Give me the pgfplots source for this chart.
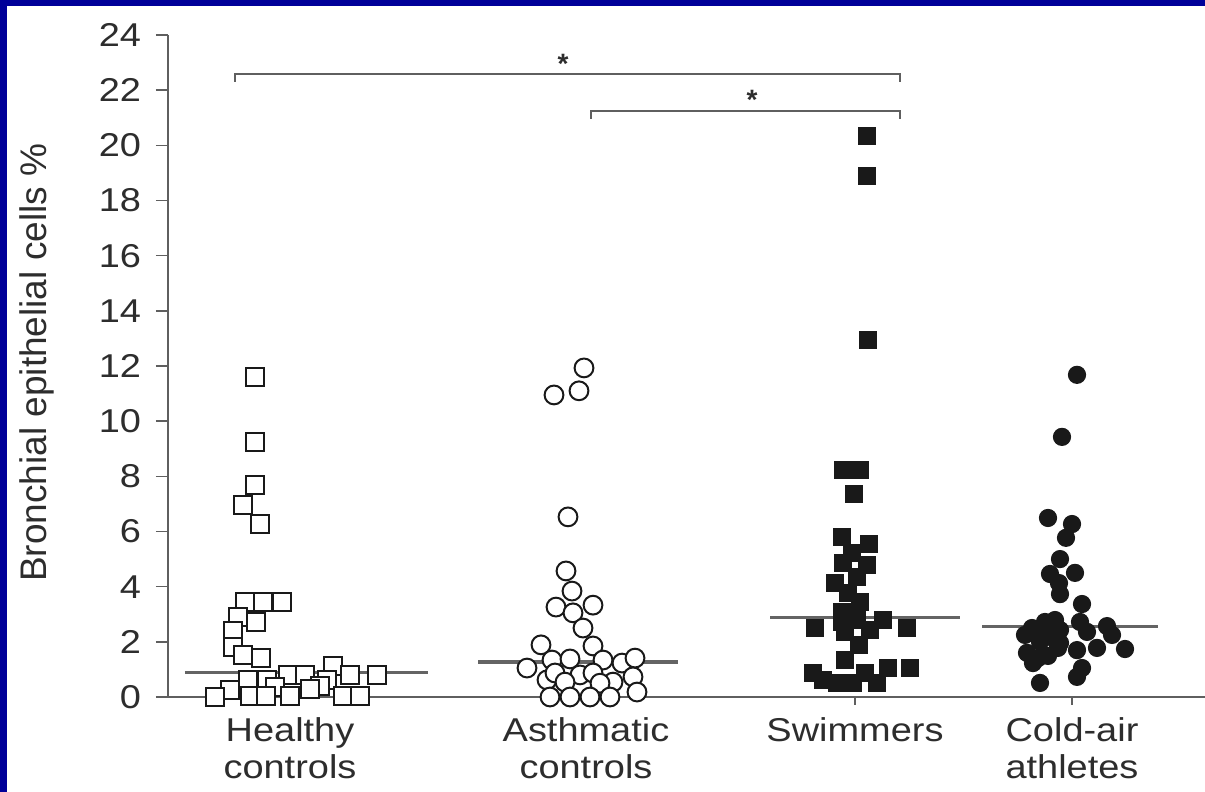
\documentclass[border=0pt]{standalone}
\usepackage{pgfplots}
\pgfplotsset{compat=1.18}
\usepackage{fontspec}
\setmainfont{Liberation Sans}
\definecolor{frameblue}{RGB}{0,0,153}
\definecolor{txt}{RGB}{45,45,45}
\definecolor{axgray}{RGB}{95,95,95}
\definecolor{medgray}{RGB}{100,100,100}
\definecolor{mk}{RGB}{25,25,25}
\begin{document}
\begin{tikzpicture}
\useasboundingbox (-84pt,-47.5pt) rectangle (518.5pt,348.5pt);
\fill[frameblue] (-84pt,-47.5pt) rectangle (518.5pt,348.5pt);
\fill[white] (-80.5pt,-47.5pt) rectangle (518.5pt,345.5pt);
\begin{axis}[
  at={(0,0)}, anchor=south west, scale only axis,
  width=518.5pt, height=331pt,
  xmin=168, xmax=1205, ymin=0, ymax=24,
  axis x line*=bottom, axis y line*=left,
  axis line style={axgray, line width=1pt},
  tick align=outside,
  ytick={0,2,...,24},
  xtick={290,586,855,1072},
  xticklabels={{Healthy\\controls},{Asthmatic\\controls},{Swimmers},{Cold-air\\athletes}},
  major tick length=6pt,
  xtick style={axgray, line width=0.8pt, /pgfplots/major tick length=4pt},
  ytick style={axgray, line width=0.8pt},
  /pgf/number format/assume math mode=true,
  tick label style={font=\fontsize{16.5}{18.5}\selectfont, text=txt, xscale=1.15},
  xticklabel style={align=center, yshift=-1pt},
  yticklabel style={xshift=-3pt},
  ylabel={Bronchial epithelial cells \%},
  ylabel style={at={(axis description cs:-0.126,0.505)}, anchor=center, font=\fontsize{18.5}{21}\selectfont, text=txt},
  clip=false,
]
% median lines
\addplot[medgray, line width=1.6pt] coordinates {(185,0.9) (428,0.9)};
\addplot[medgray, line width=1.6pt] coordinates {(478,1.27) (678,1.27)};
\addplot[medgray, line width=1.6pt] coordinates {(770,2.87) (960,2.87)};
\addplot[medgray, line width=1.6pt] coordinates {(982,2.55) (1158,2.55)};
% significance brackets
\addplot[axgray, line width=1.1pt] coordinates {(235,22.3) (235,22.58) (900,22.58) (900,22.3)};
\addplot[axgray, line width=1.1pt] coordinates {(591,20.97) (591,21.24) (900,21.24) (900,20.97)};
\node[font=\bfseries\fontsize{14}{14}\selectfont, text=txt] at (axis cs:563,22.95) {*};
\node[font=\bfseries\fontsize{14}{14}\selectfont, text=txt] at (axis cs:752,21.65) {*};
% Healthy controls
\addplot[only marks, mark=square*, mark size=4.5pt, mark options={fill=white, draw=mk, line width=1pt}] coordinates {
(255,11.6) (255,9.25) (255,7.7) (243,6.96) (260,6.27)
(245,3.44) (263,3.44) (282,3.44) (238,2.9) (256,2.72) (233,2.39)
(233,1.81) (243,1.52) (261,1.41) (333,1.12)
(288,0.8) (305,0.8) (350,0.8) (377,0.8)
(248,0.62) (267,0.62) (327,0.62)
(230,0.25) (275,0.35) (320,0.4) (310,0.3)
(215,0.0) (250,0.05) (266,0.05) (290,0.05) (343,0.05) (360,0.05)
};
% Asthmatic controls
\addplot[only marks, mark=*, mark size=4.7pt, mark options={fill=white, draw=mk, line width=1pt}] coordinates {
(584,11.93) (579,11.1) (554,10.95) (568,6.53) (566,4.57) (572,3.84)
(556,3.26) (593,3.33) (573,3.05) (583,2.5) (541,1.89) (593,1.85)
(527,1.05) (552,1.34) (570,1.38) (603,1.34) (622,1.23) (635,1.41)
(547,0.62) (555,0.87) (580,0.8) (593,0.87) (613,0.54) (633,0.73)
(565,0.54) (600,0.5) (637,0.18)
(550,0.0) (570,0.0) (590,0.0) (610,0.0)
};
% Swimmers
\addplot[only marks, mark=square*, mark size=4.3pt, mark options={fill=mk, draw=mk, line width=0.5pt}] coordinates {
(867,20.34) (867,18.9) (868,12.95)
(843,8.23) (860,8.23) (854,7.36)
(842,5.8) (869,5.55) (852,5.22) (843,4.86) (867,4.79) (857,4.35)
(835,4.13) (848,3.77) (860,3.44) (842,3.08) (857,2.79) (883,2.79)
(842,2.72) (815,2.5) (907,2.5) (870,2.43) (845,2.36) (859,1.89)
(845,1.34) (910,1.05) (888,1.05) (813,0.87) (865,0.87)
(823,0.62) (837,0.51) (853,0.51) (877,0.51)
};
% Cold-air athletes
\addplot[only marks, mark=*, mark size=4.3pt, mark options={fill=mk, draw=mk, line width=0.5pt}] coordinates {
(1077,11.68) (1062,9.43) (1048,6.49) (1072,6.27) (1066,5.77) (1060,5.0)
(1050,4.46) (1075,4.5) (1059,4.13) (1060,3.73) (1082,3.37)
(1045,2.72) (1055,2.79) (1080,2.72) (1107,2.57) (1032,2.5) (1042,2.36)
(1060,2.43) (1087,2.36) (1025,2.25) (1112,2.25) (1050,2.18) (1040,2.0)
(1060,1.96) (1077,1.7) (1097,1.78) (1125,1.74) (1027,1.6) (1048,1.49)
(1058,1.78) (1033,1.23) (1038,1.41) (1082,1.05) (1077,0.73) (1040,0.51)
};
\end{axis}
\end{tikzpicture}
\end{document}
